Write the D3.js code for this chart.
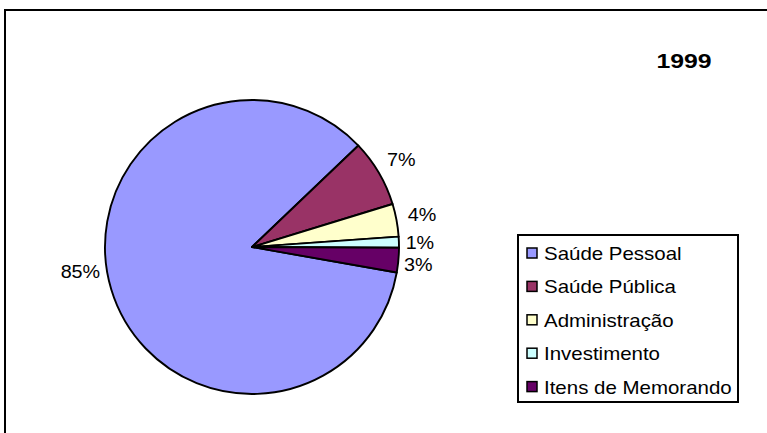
<!DOCTYPE html>
<html lang="pt">
<head>
<meta charset="utf-8">
<title>1999</title>
<script src="https://cdn.jsdelivr.net/npm/d3@7"></script>
<style>
  body { margin: 0; background: #fff; }
  text { font-family: "Liberation Sans", Arial, sans-serif; fill: #000; }
</style>
</head>
<body>
<svg id="chart"></svg>
<script>
const categories = ['Saúde Pessoal', 'Saúde Pública', 'Administração', 'Investimento', 'Itens de Memorando'],
  values = [85.1, 7.4, 3.6, 1.2, 2.7],
  colors = ['#9999ff', '#993366', '#ffffcc', '#ccffff', '#660066'],
  year = '1999';

const width = 767, height = 433;
const cx = 252, cy = 247, radius = 147, labelRadius = 173;
// small nudges for labels that excel pushes around
const labelNudge = { 'Saúde Pessoal': [-6, -25], 'Investimento': [-5, 2], 'Itens de Memorando': [-6, 3] };

const svg = d3.select('#chart')
  .attr('width', width)
  .attr('height', height);

// outer chart border (runs off the right and bottom)
svg.append('rect')
  .attr('x', 5).attr('y', 10)
  .attr('width', 780).attr('height', 440)
  .attr('fill', 'none')
  .attr('stroke', '#000')
  .attr('stroke-width', 2);

const data = categories.map((c, i) => ({ name: c, value: values[i], color: colors[i] }));

const pie = d3.pie()
  .sort(null)
  .value(d => d.value)
  .startAngle(100 * Math.PI / 180)
  .endAngle(460 * Math.PI / 180);

const arc = d3.arc().innerRadius(0).outerRadius(radius);
const labelArc = d3.arc().innerRadius(labelRadius).outerRadius(labelRadius);

const g = svg.append('g').attr('transform', `translate(${cx},${cy})`);

const arcs = pie(data);

g.selectAll('path')
  .data(arcs)
  .enter().append('path')
  .attr('d', arc)
  .attr('fill', d => d.data.color)
  .attr('stroke', '#000')
  .attr('stroke-width', 1.9)
  .attr('stroke-linejoin', 'round');

g.selectAll('.pct')
  .data(arcs)
  .enter().append('text')
  .attr('class', 'pct')
  .attr('transform', d => {
    const [x, y] = labelArc.centroid(d);
    const n = labelNudge[d.data.name] || [0, 0];
    return `translate(${x + n[0]},${y + n[1] + 6}) scale(1.13,1)`;
  })
  .attr('text-anchor', 'middle')
  .style('font-size', '17.5px')
  .text(d => `${Math.round(d.data.value)}%`);

// year label
svg.append('text')
  .attr('transform', 'translate(684,68) scale(1.24,1)')
  .attr('text-anchor', 'middle')
  .style('font-size', '20px')
  .style('font-weight', 'bold')
  .text(year);

// legend
const legend = svg.append('g').attr('transform', 'translate(518,235)');
legend.append('rect')
  .attr('width', 220).attr('height', 167)
  .attr('fill', '#fff')
  .attr('stroke', '#000')
  .attr('stroke-width', 2);

const rowY = d3.scaleBand()
  .domain(categories)
  .range([7, 174]);

const item = legend.selectAll('.item')
  .data(data)
  .enter().append('g')
  .attr('class', 'item')
  .attr('transform', d => `translate(0,${rowY(d.name)})`);

item.append('rect')
  .attr('x', 9).attr('y', 6)
  .attr('width', 10).attr('height', 10)
  .attr('fill', d => d.color)
  .attr('stroke', '#000')
  .attr('stroke-width', 1.5);

item.append('text')
  .attr('transform', 'translate(26,18) scale(1.17,1)')
  .style('font-size', '17.5px')
  .text(d => d.name);
</script>
</body>
</html>
